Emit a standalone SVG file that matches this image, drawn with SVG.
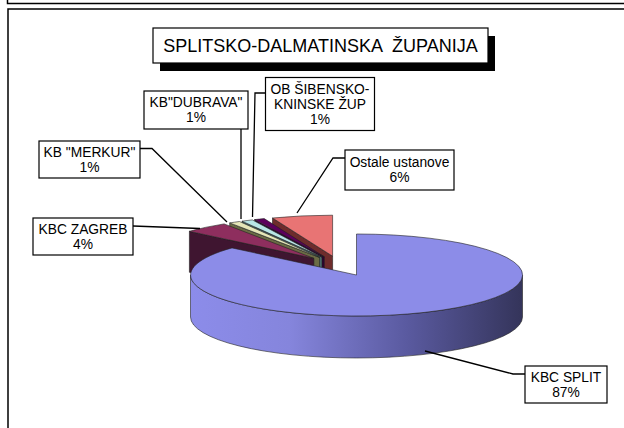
<svg xmlns="http://www.w3.org/2000/svg" width="624" height="428" viewBox="0 0 624 428">
<defs>
<linearGradient id="blueSide" gradientUnits="userSpaceOnUse" x1="190" y1="0" x2="523" y2="0">
<stop offset="0" stop-color="#8C8CEA"/>
<stop offset="0.3" stop-color="#8585DC"/>
<stop offset="0.65" stop-color="#5A5AA0"/>
<stop offset="1" stop-color="#34345A"/>
</linearGradient>
</defs>
<style>
.frame{fill:none;stroke:#000;stroke-width:1.5}
.box{fill:#fff;stroke:#000;stroke-width:1.2}
.lbl{font-family:"Liberation Sans",Arial,sans-serif;font-size:13.8px;fill:#000;text-anchor:middle}
.title{font-family:"Liberation Sans",Arial,sans-serif;font-size:18px;fill:#000;text-anchor:middle}
.lead{fill:none;stroke:#000;stroke-width:1.3}
.face{stroke:#222;stroke-width:0.6;stroke-linejoin:round}
</style>
<rect x="0" y="0" width="624" height="428" fill="#fff"/>
<path class="frame" d="M7.5,0 V3.5 H624"/>
<path class="frame" d="M8,428 V9 H624"/>

<g id="title">
<rect x="160" y="36" width="335" height="35" fill="#000"/>
<rect class="box" x="153" y="28" width="335" height="35"/>
<text class="title" x="320.5" y="52" xml:space="preserve">SPLITSKO-DALMATINSKA  ŽUPANIJA</text>
</g>

<g id="pie">
<g id="slice-ostale">
<path class="face" fill="#6E2C2C" d="M332.6,256.2 L272.5,218 L272.5,259 L332.6,297.2 Z"/>
<path class="face" fill="#E87474" d="M332.6,256.2 L272.5,218 A166 41 0 0 1 332.6,215.2 Z"/>
</g>
<g id="slice-ob">
<path class="face" fill="#2E002E" d="M324.3,256.8 L254.6,219.6 L254.6,260.6 L324.3,297.8 Z"/>
<path class="face" fill="#5C005C" d="M324.3,256.8 L254.6,219.6 A166 41 0 0 1 264.2,218.6 Z"/>
</g>
<g id="slice-dubrava">
<path class="face" fill="#4A6A6A" d="M322,257.1 L242,221.2 L242,262.2 L322,298.1 Z"/>
<path class="face" fill="#B8E6E6" d="M322,257.1 L242,221.2 A166 41 0 0 1 252.3,219.9 Z"/>
</g>
<g id="slice-merkur">
<path class="face" fill="#6B6B45" d="M319.5,257.4 L229.7,222.9 L229.7,263.9 L319.5,298.4 Z"/>
<path class="face" fill="#E6E6B8" d="M319.5,257.4 L229.7,222.9 A166 41 0 0 1 239.5,221.5 Z"/>
</g>
<g id="slice-zagreb">
<path class="face" fill="#3F1530" d="M313.9,258.4 L189.4,231.3 L189.4,272.3 L313.9,299.4 Z"/>
<path class="face" fill="#8E2E5E" d="M313.9,258.4 L189.4,231.3 A166 41 0 0 1 224.1,223.9 Z"/>
</g>
<g id="slice-split">
<path class="face" fill="url(#blueSide)" d="M522.5,275 A166 41 0 0 1 190.5,275 L190.5,317 A166 41 0 0 0 522.5,317 Z"/>
<path class="face" fill="#8C8CE8" d="M356.5,275 L356.5,234 A166 41 0 1 1 232,247.9 Z"/>
</g>
</g>

<g id="connectors">
<path class="lead" d="M133,226 L200,228.5"/>
<path class="lead" d="M140,148.5 H152 L227,222"/>
<path class="lead" d="M241,129 V219"/>
<path class="lead" d="M265.5,93 H255 L252.5,217"/>
<path class="lead" d="M345,158 H333 L297,213"/>
<path class="lead" d="M525,374 H513 L425,351"/>
</g>

<g id="label-dubrava">
<rect class="box" x="144" y="91" width="104" height="38"/>
<text class="lbl" x="196" y="107">KB"DUBRAVA"</text>
<text class="lbl" x="196" y="122">1%</text>
</g>
<g id="label-ob">
<rect class="box" x="265.5" y="77.5" width="109" height="53"/>
<text class="lbl" x="320" y="94">OB ŠIBENSKO-</text>
<text class="lbl" x="320" y="109">KNINSKE ŽUP</text>
<text class="lbl" x="320" y="124">1%</text>
</g>
<g id="label-merkur">
<rect class="box" x="39" y="141" width="101" height="37"/>
<text class="lbl" x="89.5" y="157">KB "MERKUR"</text>
<text class="lbl" x="89.5" y="172">1%</text>
</g>
<g id="label-zagreb">
<rect class="box" x="33" y="218" width="100" height="37"/>
<text class="lbl" x="83" y="234">KBC ZAGREB</text>
<text class="lbl" x="83" y="249">4%</text>
</g>
<g id="label-ostale">
<rect class="box" x="345" y="150" width="109" height="40"/>
<text class="lbl" x="399.5" y="167">Ostale ustanove</text>
<text class="lbl" x="399.5" y="182">6%</text>
</g>
<g id="label-split">
<rect class="box" x="525" y="366" width="82" height="37"/>
<text class="lbl" x="566" y="382">KBC SPLIT</text>
<text class="lbl" x="566" y="397">87%</text>
</g>
</svg>
